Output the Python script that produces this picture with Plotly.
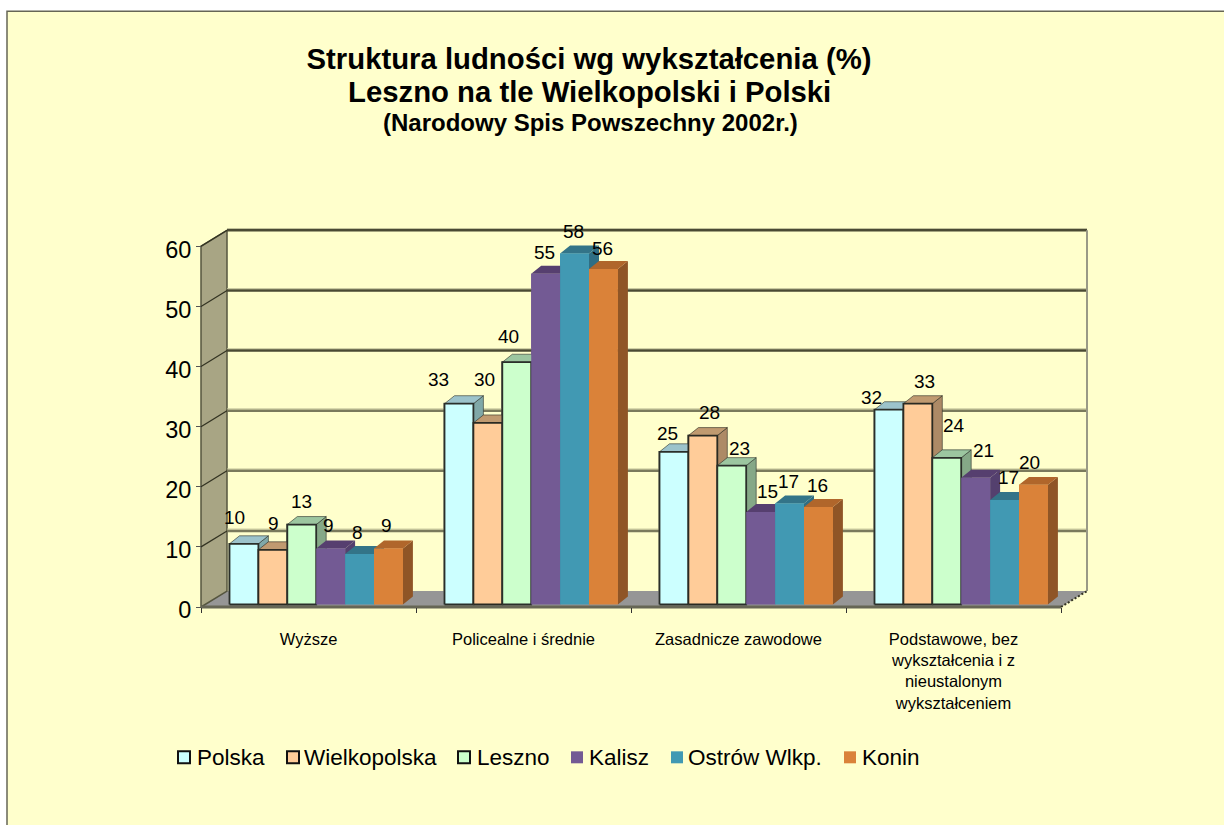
import plotly.graph_objects as go

# ---- data ----
categories = ["Wyższe", "Policealne i średnie", "Zasadnicze zawodowe",
              "Podstawowe, bez<br>wykształcenia i z<br>nieustalonym<br>wykształceniem"]
polska = [10.1, 33.4, 25.4, 32.4]
wielkopolska = [9.1, 30.2, 28.1, 33.4]
leszno = [13.3, 40.3, 23.1, 24.4]
kalisz = [9.3, 55.0, 15.4, 21.1]
ostrow = [8.4, 58.4, 16.8, 17.4]
konin = [9.3, 55.8, 16.2, 19.9]
y_ticks = [0, 10, 20, 30, 40, 50, 60]
series_names = ["Polska", "Wielkopolska", "Leszno", "Kalisz", "Ostrów Wlkp.", "Konin"]
title_lines = ["Struktura ludności wg wykształcenia (%)", "Leszno na tle Wielkopolski i Polski"]
subtitle = "(Narodowy Spis Powszechny 2002r.)"
series_values = [polska, wielkopolska, leszno, kalisz, ostrow, konin]

# ---- styles & layout constants ----
W, H = 1224, 825
X0_PX, Y0_PX = 201, 607.5               # pixel of the axis origin
PAD = 5                                 # spare pixels round the drawing, so lines are not clipped
L, R, T, B = X0_PX - PAD, 1087 + PAD, 230 - PAD, Y0_PX + PAD
PX_X = 215.0                            # px per category
PX_Y = 6.02                             # px per percent
BG = "#FFFFCC"
FONT = "Liberation Sans, Arial, sans-serif"
front = ["#CCFFFF", "#FFCC99", "#CCFFCC", "#735A94", "#4199B3", "#DA8239"]
top_c = ["#9CC3CB", "#C09A70", "#9CC6A0", "#563F6F", "#337488", "#B0662B"]
side_c = ["#80A8A8", "#AD8A66", "#85A887", "#54406E", "#2F6E84", "#8F5526"]
edge = ["#2A2F2A", "#2A2A22", "#2A2F2A", None, None, None]

wall_dx = 26 / PX_X
wall_dy = 16 / PX_Y
bar_dx = 10 / PX_X
bar_dy = 8 / PX_Y
bar_base = 2.5 / PX_Y
bar_w = 28.9 / PX_X
bar_start = 28.5 / PX_X

# pixel nudges of the data labels relative to each bar top (one row per category)
label_nudge = [
    [(-9, 26), (1, 26), (0, 23), (-2, 23), (-2, 22), (-2, 23)],
    [(-20, 24), (-3, 43), (-8, 26), (-1, 21), (-1, 22), (-1, 21)],
    [(-6, 18), (7, 23), (8, 17), (7, 20), (-1, 22), (-1, 22)],
    [(-17, 12), (7, 22), (7, 32), (8, 27), (4, 22), (-4, 22)],
]
# legend layout, pixels from the left of the page
legend_swatch_px = [178, 287, 458, 571, 671, 844]
legend_text_px = [196, 303, 476, 588, 687, 861]
LEGEND_Y = 758


def px_x(p):
    return (p - L) / (R - L)


def px_y(p):
    return (B - p) / (B - T)


fig = go.Figure()
n_cat = len(categories)


def poly(xs, ys, fill, line=None, lw=0):
    fig.add_trace(go.Scatter(x=xs, y=ys, mode="lines", fill="toself", fillcolor=fill,
                             line=dict(color=line or fill, width=lw), showlegend=False,
                             hoverinfo="skip"))


def seg(xs, ys, color, lw, dash="solid"):
    fig.add_trace(go.Scatter(x=xs, y=ys, mode="lines", line=dict(color=color, width=lw, dash=dash),
                             showlegend=False, hoverinfo="skip"))


# floor and side wall
poly([0, n_cat, n_cat + wall_dx, wall_dx, 0], [0, 0, wall_dy, wall_dy, 0], "#969696")
poly([0, wall_dx, wall_dx, 0, 0], [0, wall_dy, 60 + wall_dy, 60, 0], "#A8A584", "#55553F", 1.5)

# gridlines on the back wall and their continuation on the side wall
for t in y_ticks[1:]:
    col = "#4A4A33" if t >= 40 else "#7A7A5C"
    seg([wall_dx, n_cat + wall_dx], [t + wall_dy + 0.3] * 2, "#C4C49A", 1)
    seg([wall_dx, n_cat + wall_dx], [t + wall_dy] * 2, col, 2.5)
    seg([0, wall_dx], [t, t + wall_dy], "#333322", 1.2)
seg([n_cat + wall_dx] * 2, [wall_dy, 60 + wall_dy], "#9A9A86", 2)

# bars: real bars carry the values; polygons over them paint the 3-D faces in depth order
for s, (name, vals) in enumerate(zip(series_names, series_values)):
    xc = [i + bar_start + (s + 0.5) * bar_w for i in range(n_cat)]
    ln = dict(color=edge[s], width=1.5) if edge[s] else dict(width=0)
    fig.add_trace(go.Bar(x=xc, y=vals, base=bar_base, width=bar_w, name=name, showlegend=False,
                         marker=dict(color=front[s], line=ln)))

for s, vals in enumerate(series_values):
    xt, yt, xs_, ys_, xf, yf = [], [], [], [], [], []
    for i, v in enumerate(vals):
        x0 = i + bar_start + s * bar_w
        x1 = x0 + bar_w
        y0, y1 = bar_base, bar_base + v
        xt += [x0, x1, x1 + bar_dx, x0 + bar_dx, x0, None]
        yt += [y1, y1, y1 + bar_dy, y1 + bar_dy, y1, None]
        xs_ += [x1, x1 + bar_dx, x1 + bar_dx, x1, x1, None]
        ys_ += [y0, y0 + bar_dy, y1 + bar_dy, y1, y0, None]
        xf += [x0, x1, x1, x0, x0, None]
        yf += [y0, y0, y1, y1, y0, None]
    poly(xs_, ys_, side_c[s], edge[s], 0.6 if edge[s] else 0)
    poly(xt, yt, top_c[s], edge[s], 0.6 if edge[s] else 0)
    poly(xf, yf, front[s], edge[s], 1.8 if edge[s] else 0)

# front edge of the floor and dashed right-hand edge
seg([0, n_cat], [0, 0], "#666655", 3)
seg([n_cat, n_cat + wall_dx], [0, wall_dy], "#333322", 2, "2px,2px")

# data labels
for i in range(n_cat):
    for s, vals in enumerate(series_values):
        dx, dy = label_nudge[i][s]
        fig.add_annotation(x=i + bar_start + (s + 0.5) * bar_w, y=bar_base + vals[i],
                           xref="x", yref="y", text=f"{vals[i]:.0f}", showarrow=False,
                           xshift=dx, yshift=dy, font=dict(family=FONT, size=19, color="black"))

# remaining title lines
fig.add_annotation(x=px_x(589), y=px_y(91), xref="paper", yref="paper",
                   text=f"<b>{title_lines[1]}</b>", showarrow=False, yanchor="middle",
                   font=dict(family=FONT, size=29.3, color="black"))
fig.add_annotation(x=px_x(590), y=px_y(122), xref="paper", yref="paper",
                   text=f"<b>{subtitle}</b>", showarrow=False, yanchor="middle",
                   font=dict(family=FONT, size=24, color="black"))

# legend
shapes = [dict(type="rect", xref="paper", yref="paper", layer="below",
               x0=px_x(7), x1=px_x(W + 5), y0=px_y(11), y1=px_y(H + 5),
               fillcolor=BG, line=dict(color="#666655", width=1.5))]
for s, name in enumerate(series_names):
    sx = legend_swatch_px[s]
    shapes.append(dict(type="rect", xref="paper", yref="paper",
                       x0=px_x(sx), x1=px_x(sx + 12), y0=px_y(LEGEND_Y - 6), y1=px_y(LEGEND_Y + 6),
                       fillcolor=front[s],
                       line=dict(color="#111111", width=2) if edge[s] else dict(width=0)))
    fig.add_annotation(x=px_x(legend_text_px[s]), y=px_y(LEGEND_Y), xref="paper", yref="paper",
                       text=name, showarrow=False, xanchor="left", yanchor="middle", xshift=-1,
                       font=dict(family=FONT, size=22.5, color="black"))

fig.update_layout(
    width=W, height=H, autosize=False,
    margin=dict(l=L, r=W - R, t=T, b=H - B, pad=0, autoexpand=False),
    paper_bgcolor="white", plot_bgcolor="rgba(0,0,0,0)",
    barmode="overlay", showlegend=False,
    title=dict(text=f"<b>{title_lines[0]}</b>", x=589 / W, xanchor="center",
               y=1 - 59 / H, yanchor="middle", yref="container",
               font=dict(family=FONT, size=29.3, color="black")),
    xaxis=dict(range=[(L - X0_PX) / PX_X, (R - X0_PX) / PX_X], anchor="free", position=px_y(Y0_PX),
               tickmode="array", tickvals=[i + 0.5 for i in range(n_cat)],
               ticktext=categories, ticks="", showgrid=False, zeroline=False, showline=False,
               tickfont=dict(family=FONT, size=16.5, color="black"), ticklabelstandoff=20,
               minor=dict(tickmode="array", tickvals=list(range(n_cat + 1)), ticks="outside",
                          ticklen=5, tickcolor="#333333", tickwidth=1, showgrid=False)),
    yaxis=dict(range=[(Y0_PX - B) / PX_Y, (Y0_PX - T) / PX_Y], anchor="free", position=px_x(X0_PX),
               tickmode="array", tickvals=y_ticks, ticks="outside",
               ticklen=5, tickcolor="#555555", showgrid=False, zeroline=False, showline=False,
               ticklabelshift=3, tickfont=dict(family=FONT, size=23.5, color="black")),
    shapes=shapes,
)

fig.write_html("out.html", post_script="document.body.style.margin='0';",
               config={"displayModeBar": False})
